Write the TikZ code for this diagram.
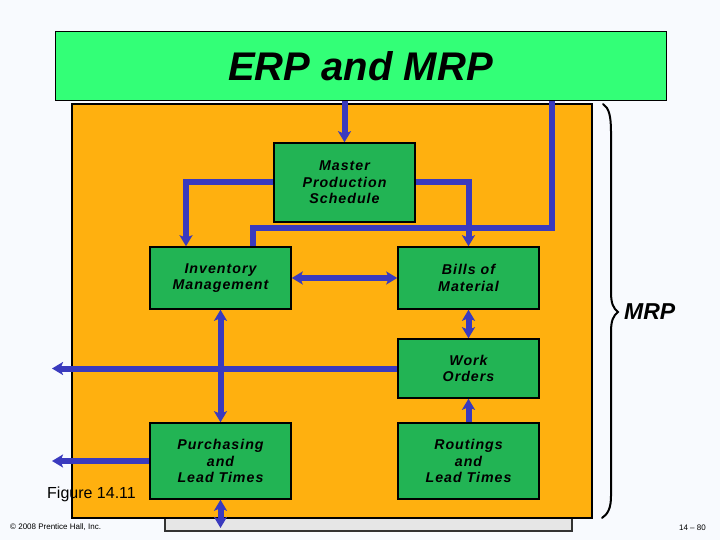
\documentclass[tikz,border=0pt]{standalone}
\usepackage{fontspec}
\setmainfont{Liberation Sans}
\newfontfamily\boxfont[LetterSpace=7]{Liberation Sans}
\usetikzlibrary{arrows.meta}
\definecolor{bgc}{HTML}{F8FAFE}
\definecolor{titlegreen}{HTML}{33FF77}
\definecolor{orangefill}{HTML}{FFB00F}
\definecolor{boxgreen}{HTML}{22B454}
\definecolor{connblue}{HTML}{3A3ABE}
\definecolor{shadowgray}{HTML}{E6E6E6}
\tikzset{
  procbox/.style={draw=black, fill=boxgreen, line width=1.5pt, minimum width=141pt,
    align=center, inner sep=0pt,
    font=\boxfont\fontsize{14.2}{16.5}\selectfont\bfseries\itshape},
  conn/.style={draw=connblue, line width=6pt},
  tipa/.tip={Stealth[length=11pt,width=13pt,inset=2.5pt]},
}
\begin{document}
\begin{tikzpicture}[x=1pt,y=-1pt]
\useasboundingbox (0,0) rectangle (720,540);
\fill[bgc] (0,0) rectangle (720,540);
% shadow and orange panel
\draw[fill=shadowgray, line width=1.2pt, draw=black!80] (165,505) rectangle (572,531);
\draw[fill=orangefill, line width=1.5pt] (72,104) rectangle (592,518);
% title
\node[draw=black, line width=1pt, fill=titlegreen, minimum width=611pt, minimum height=69pt,
  inner sep=0pt, font=\fontsize{40}{42}\selectfont\bfseries\itshape] (title) at (360.5,66.5) {ERP and MRP};
% boxes
\node[procbox, minimum height=79pt] (mps) at (344.5,182.5) {Master\\Production\\Schedule};
\node[procbox, minimum height=62pt] (inv) at (220.5,278) {Inventory\\Management};
\node[procbox, minimum height=62pt] (bom) at (468.5,278) {Bills of\\Material};
\node[procbox, minimum height=59pt] (wo) at (468.5,368.5) {Work\\Orders};
\node[procbox, minimum height=76pt] (pur) at (220.5,461) {Purchasing\\and\\Lead Times};
\node[procbox, minimum height=76pt] (rout) at (468.5,461) {Routings\\and\\Lead Times};
% coordinates
\coordinate (erpout) at ([xshift=191.5pt]title.south);
\coordinate (bend) at (552,228);
\coordinate (leftA) at (52,368.5);
\coordinate (leftB) at (52,461);
\coordinate (botC) at (220.5,528);
% connectors
\draw[conn,-tipa] (mps.north |- title.south) -- (mps.north);
\draw[conn,-tipa] (mps.west) -| ([xshift=-34.5pt]inv.north);
\draw[conn,-tipa] (mps.east) -| (bom.north);
\draw[conn] (erpout) -- (bend) -| ([xshift=32.5pt]inv.north);
\draw[conn,tipa-tipa] (inv.east) -- (bom.west);
\draw[conn,tipa-tipa] (bom.south) -- (wo.north);
\draw[conn,-tipa] (wo.west) -- (leftA);
\draw[conn,tipa-tipa] (inv.south) -- (pur.north);
\draw[conn,-tipa] (pur.west) -- (leftB);
\draw[conn,tipa-tipa] (pur.south) -- (botC);
\draw[conn,-tipa] (rout.north) -- (wo.south);
% brace
\draw[line width=2pt, line cap=round] (603,104) .. controls (609,108) and (611,116) .. (611,132)
  -- (611,292) .. controls (611,303) and (613,308) .. (618,312)
  .. controls (613,316) and (611,321) .. (611,332)
  -- (611,496) .. controls (611,508) and (608,514) .. (602,518);
\node[font=\fontsize{23}{25}\selectfont\bfseries\itshape, anchor=west, inner sep=0pt] (mrp) at (624,312) {MRP};
% captions
\node[font=\fontsize{16}{18}\selectfont, anchor=west, inner sep=0pt] (fig) at (47,494) {Figure 14.11};
\node[font=\fontsize{8}{9}\selectfont, anchor=west, inner sep=0pt] (copy) at (10,527.5) {© 2008 Prentice Hall, Inc.};
\node[font=\fontsize{8}{9}\selectfont, anchor=east, inner sep=0pt] (pg) at (706,527.5) {14 – 80};
\end{tikzpicture}
\end{document}
